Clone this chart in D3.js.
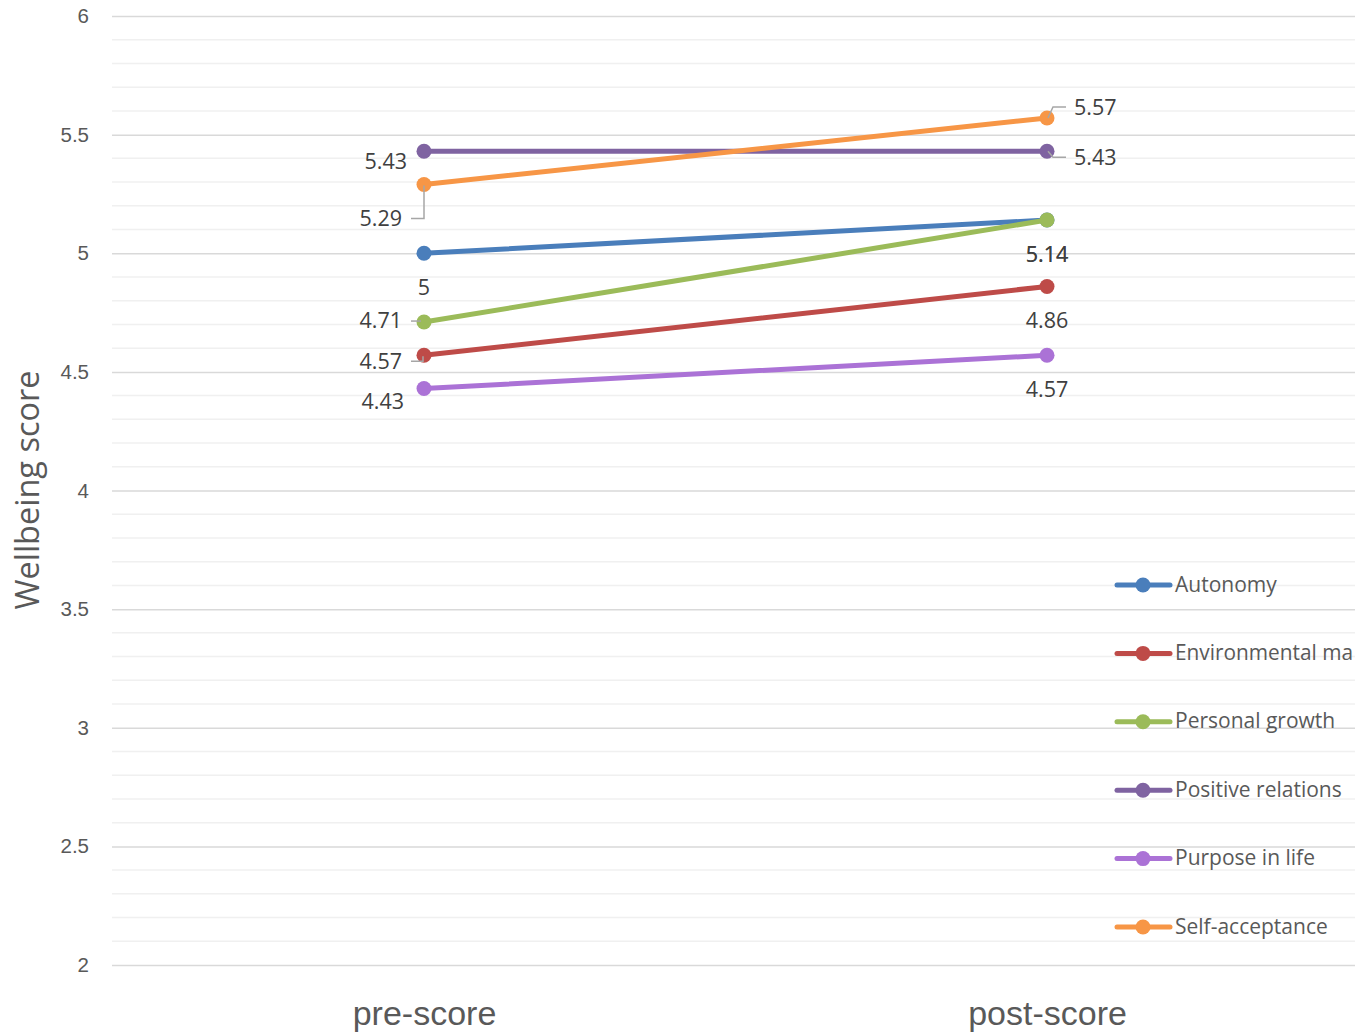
<!DOCTYPE html>
<html>
<head>
<meta charset="utf-8">
<script src="https://cdn.jsdelivr.net/npm/d3@7"></script>
<style>
  html, body { margin: 0; padding: 0; background: #fff; overflow: hidden; }
  svg { display: block; font-family: "Open Sans", "Noto Sans", sans-serif; }
</style>
</head>
<body>
<svg id="chart" width="1355" height="1032"></svg>
<script>
// ---- data ----
const categories = ["pre-score", "post-score"];
const seriesNames = ["Autonomy", "Environmental mastery", "Personal growth", "Positive relations", "Purpose in life", "Self-acceptance"];
const preValues  = [5.00, 4.57, 4.71, 5.43, 4.43, 5.29];
const postValues = [5.14, 4.86, 5.14, 5.43, 4.57, 5.57];
const yTicks = [2, 2.5, 3, 3.5, 4, 4.5, 5, 5.5, 6];
const yTitle = "Wellbeing score";

// ---- styles ----
const colors = ["#4a7ebb", "#be4b48", "#9bbb59", "#7f63a1", "#ab72d6", "#f79646"];

// label placements (per series, per category): anchor, dx, dy, leader path relative to point
const labelPlacement = [
  [{a:"middle", dx:0, dy:36}, {a:"middle", dx:0, dy:36}],
  [{a:"end", dx:-22, dy:8, leader:[[-13,6],[-1,6],[-1,1]]}, {a:"middle", dx:0, dy:36}],
  [{a:"end", dx:-22, dy:0, leader:[[-13,-1],[-3,-1]]}, {a:"middle", dx:0, dy:36}],
  [{a:"end", dx:-17, dy:12}, {a:"start", dx:27, dy:8, leader:[[1,0],[6,6],[19,6]]}],
  [{a:"end", dx:-20, dy:15}, {a:"middle", dx:0, dy:36}],
  [{a:"end", dx:-22, dy:36, leader:[[0,1],[0,34],[-13,34]]}, {a:"start", dx:27, dy:-9, leader:[[1,0],[6,-11],[19,-11]]}]
];

const svg = d3.select("#chart");
const W = 1355, H = 1032;

const x = d3.scalePoint().domain(categories).range([112.5, 1358.5]).padding(0.5);
const y = d3.scaleLinear().domain([2, 6]).range([965, 16]);

// minor gridlines
const minorTicks = d3.range(20, 61).map(d => d / 10).filter(v => Math.abs(v * 2 - Math.round(v * 2)) > 1e-6);
svg.append("g").selectAll("line").data(minorTicks).join("line")
  .attr("x1", 112).attr("x2", W)
  .attr("y1", d => y(d)).attr("y2", d => y(d))
  .attr("stroke", "#f0f0f0").attr("stroke-width", 1.5);

// major gridlines via axis
const yAxis = d3.axisLeft(y).tickValues(yTicks).tickSize(-(W - 112)).tickFormat(d3.format("~g"));
const gy = svg.append("g").attr("transform", "translate(112,0)").call(yAxis);
gy.select(".domain").remove();
gy.selectAll(".tick line").attr("stroke", "#d9d9d9").attr("stroke-width", 1.5);
gy.selectAll(".tick text").attr("x", -23).attr("dy", "0.32em").attr("fill", "#595959").attr("font-size", 20.5);

// x axis labels
const xAxis = d3.axisBottom(x).tickSize(0);
const gx = svg.append("g").attr("transform", "translate(0,965)").call(xAxis);
gx.select(".domain").remove();
gx.selectAll(".tick text").attr("y", 51).attr("dy", "0").attr("fill", "#595959").attr("font-size", 34)
  .attr("dominant-baseline", "middle");

// y title
svg.append("text")
  .attr("transform", "translate(30,490) rotate(-90)")
  .attr("text-anchor", "middle").attr("dominant-baseline", "middle")
  .attr("fill", "#595959").attr("font-size", 32.5)
  .text(yTitle);

// series
const series = seriesNames.map((name, i) => ({
  name, color: colors[i], idx: i,
  values: [preValues[i], postValues[i]].map((v, j) => ({cat: categories[j], v, j}))
}));

const line = d3.line().x(d => x(d.cat)).y(d => y(d.v));

const gS = svg.append("g");
series.forEach(s => {
  gS.append("path").datum(s.values)
    .attr("d", line).attr("fill", "none")
    .attr("stroke", s.color).attr("stroke-width", 5).attr("stroke-linecap", "round");
  gS.selectAll(null).data(s.values).join("circle")
    .attr("cx", d => x(d.cat)).attr("cy", d => y(d.v)).attr("r", 7.5)
    .attr("fill", s.color);
});

// leader lines and data labels
const gL = svg.append("g");
series.forEach(s => {
  s.values.forEach(d => {
    const p = labelPlacement[s.idx][d.j];
    const px = x(d.cat), py = y(d.v);
    if (p.leader) {
      gL.append("path")
        .attr("d", d3.line()(p.leader.map(q => [px + q[0], py + q[1]])))
        .attr("fill", "none").attr("stroke", "#a6a6a6").attr("stroke-width", 1.5);
    }
    gL.append("text")
      .attr("x", px + p.dx).attr("y", py + p.dy)
      .attr("text-anchor", p.a).attr("dominant-baseline", "middle")
      .attr("fill", "#404040").attr("font-size", 21.5)
      .text(d3.format("~g")(d.v));
  });
});

// legend (names truncated to fit the space left at the chart edge)
const legendY = d3.scalePoint().domain(seriesNames).range([585, 927]);
const legendTextX = 1175, legendMaxW = W - legendTextX - 2;
const gLeg = svg.append("g");
series.forEach(s => {
  const ly = legendY(s.name);
  gLeg.append("line").attr("x1", 1117).attr("x2", 1170).attr("y1", ly).attr("y2", ly)
    .attr("stroke", s.color).attr("stroke-width", 5).attr("stroke-linecap", "round");
  gLeg.append("circle").attr("cx", 1143).attr("cy", ly).attr("r", 7.5).attr("fill", s.color);
  const t = gLeg.append("text").attr("x", legendTextX).attr("y", ly + 1).attr("dominant-baseline", "middle")
    .attr("fill", "#595959").attr("font-size", 21).text(s.name);
  let str = s.name;
  while (t.node().getComputedTextLength() > legendMaxW + 8 && str.length > 1) {
    str = str.slice(0, -1).replace(/\s+$/, "");
    t.text(str);
  }
  if (t.node().getComputedTextLength() > legendMaxW) {
    t.attr("textLength", legendMaxW).attr("lengthAdjust", "spacingAndGlyphs");
  }
});
</script>
</body>
</html>
